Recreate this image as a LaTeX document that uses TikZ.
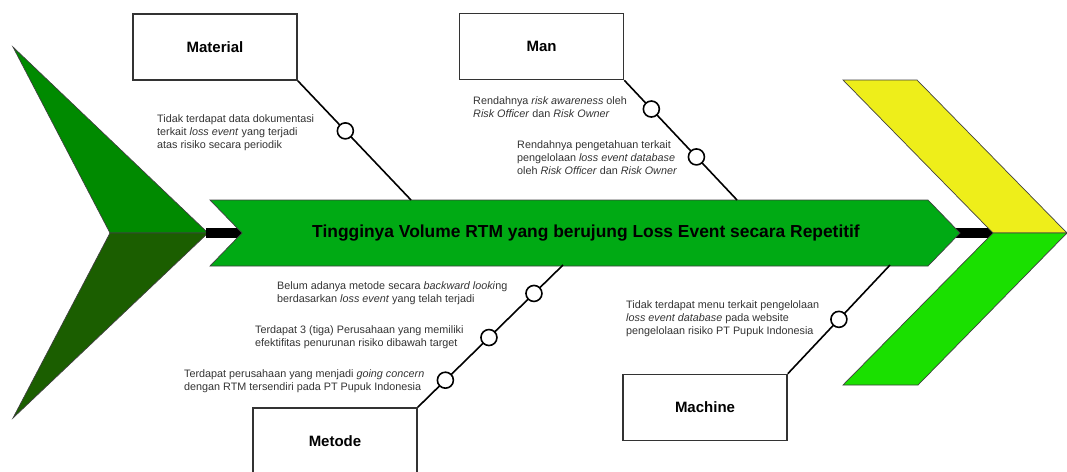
\documentclass[tikz,border=0pt]{standalone}
\usepackage{fontspec}
\setmainfont{Liberation Sans}
\usetikzlibrary{calc}
\definecolor{gUp}{RGB}{0,138,0}
\definecolor{gLow}{RGB}{27,94,0}
\definecolor{gMain}{RGB}{0,170,20}
\definecolor{yel}{RGB}{238,238,26}
\definecolor{gBright}{RGB}{26,224,0}
\definecolor{txt}{RGB}{51,51,51}
\begin{document}
\begin{tikzpicture}[x=1pt,y=-1pt,
  shapeline/.style={draw=black!75,line width=0.7pt},
  box/.style={draw=black!80,line width=1.6pt,fill=white,minimum width=164pt,minimum height=66pt,inner sep=0pt,font=\fontsize{15}{17}\selectfont\bfseries},
  bone/.style={draw=black,line width=1.6pt},
  dot/.style={circle,draw=black,line width=1.6pt,fill=white,minimum size=16pt,inner sep=0pt},
  note/.style={anchor=west,align=left,inner sep=0pt,text=txt,font=\fontsize{10.8}{13}\selectfont},
  bar/.style={draw=black,line width=10pt}
]
\useasboundingbox (0,0) rectangle (1067,471);
\begin{scope}
\clip (0,0) rectangle (1067,471);
% left tail
\path[shapeline,fill=gUp] (13,47) -- (208,233) -- (110,233) -- cycle;
\path[shapeline,fill=gLow] (110,233) -- (208,233) -- (13,418) -- cycle;
% bars
\coordinate (lb1) at (206,233);
\coordinate (lb2) at (244,233);
\coordinate (rb1) at (956,233);
\coordinate (rb2) at (995,233);
\draw[bar] (lb1) -- (lb2);
\draw[bar] (rb1) -- (rb2);
% main arrow
\path[shapeline,fill=gMain] (210,200) -- (928,200) -- (960,233) -- (928,266) -- (210,266) -- (242,233) -- cycle;
\node[font=\fontsize{17.4}{19}\selectfont\bfseries] (title) at (586,233) {Tingginya Volume RTM yang berujung Loss Event secara Repetitif};
% right head
\path[shapeline,fill=yel] (843,80) -- (917,80) -- (1067,233) -- (993,233) -- cycle;
\path[shapeline,fill=gBright] (993,233) -- (1067,233) -- (918,385) -- (843,385) -- cycle;

% category boxes
\node[box] (mat) at (215,47) {Material};
\node[box] (man) at (541.5,46.5) {Man};
\node[box] (met) at (335,441) {Metode};
\node[box] (mac) at (705,407.5) {Machine};

% bone ends on the spine
\coordinate (matend) at (411,200);
\coordinate (manend) at (737,200);
\coordinate (metend) at (563,265);
\coordinate (macend) at (890,265);

\draw[bone] (mat.south east) -- (matend);
\draw[bone] (man.south east) -- (manend);
\draw[bone] (met.north east) -- (metend);
\draw[bone] (mac.north east) -- (macend);

\node[dot] (c1) at ($(mat.south east)!0.42!(matend)$) {};
\node[dot] (c2) at ($(man.south east)!0.24!(manend)$) {};
\node[dot] (c3) at ($(man.south east)!0.64!(manend)$) {};
\node[dot] (c4) at ($(met.north east)!0.19!(metend)$) {};
\node[dot] (c5) at ($(met.north east)!0.49!(metend)$) {};
\node[dot] (c6) at ($(met.north east)!0.80!(metend)$) {};
\node[dot] (c7) at ($(mac.north east)!0.50!(macend)$) {};

% notes
\node[note] (n1) at (157,133) {Tidak terdapat data dokumentasi\\terkait \textit{loss event} yang terjadi\\atas risiko secara periodik};
\node[note] (n2) at (473,107.5) {Rendahnya \textit{risk awareness} oleh\\\textit{Risk Officer} dan \textit{Risk Owner}};
\node[note] (n3) at (517,158) {Rendahnya pengetahuan terkait\\pengelolaan \textit{loss event database}\\oleh \textit{Risk Officer} dan \textit{Risk Owner}};
\node[note] (n4) at (277,293.5) {Belum adanya metode secara \textit{backward looki}ng\\berdasarkan \textit{loss event} yang telah terjadi};
\node[note] (n5) at (255,337.5) {Terdapat 3 (tiga) Perusahaan yang memiliki\\efektifitas penurunan risiko dibawah target};
\node[note] (n6) at (184,381.5) {Terdapat perusahaan yang menjadi \textit{going concern}\\dengan RTM tersendiri pada PT Pupuk Indonesia};
\node[note] (n7) at (626,319) {Tidak terdapat menu terkait pengelolaan\\\textit{loss event database} pada website\\pengelolaan risiko PT Pupuk Indonesia};
\end{scope}
\end{tikzpicture}
\end{document}
